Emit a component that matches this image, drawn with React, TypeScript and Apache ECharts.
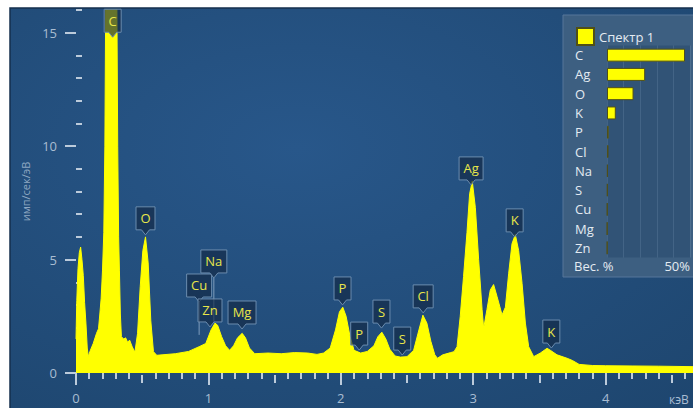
import React, { useEffect, useRef } from 'react';
import * as echarts from 'echarts';

// ---- spectrum (keV, counts/s/eV) ----
const energy = [
  0.0, 0.006, 0.015, 0.025, 0.035, 0.045, 0.055, 0.065, 0.075, 0.085, 0.093, 0.105, 0.13, 0.155, 0.17, 0.18, 0.19, 0.2,
  0.21, 0.218, 0.225, 0.25, 0.275, 0.3, 0.308, 0.315, 0.322, 0.328, 0.335, 0.343, 0.36, 0.375, 0.39, 0.405, 0.425, 0.445,
  0.465, 0.485, 0.505, 0.525, 0.545, 0.565, 0.585, 0.61, 0.65, 0.75, 0.85, 0.93, 0.98, 1.02, 1.05, 1.07, 1.1, 1.13, 1.16,
  1.19, 1.22, 1.255, 1.28, 1.31, 1.35, 1.45, 1.55, 1.65, 1.75, 1.82, 1.87, 1.92, 1.96, 1.99, 2.015, 2.04, 2.07, 2.1, 2.15,
  2.2, 2.25, 2.28, 2.31, 2.34, 2.37, 2.41, 2.45, 2.5, 2.55, 2.59, 2.62, 2.65, 2.68, 2.71, 2.73, 2.77, 2.83, 2.855, 2.878,
  2.902, 2.927, 2.953, 2.973, 2.993, 3.016, 3.041, 3.067, 3.079, 3.104, 3.129, 3.154, 3.18, 3.218, 3.243, 3.268, 3.293,
  3.318, 3.343, 3.369, 3.394, 3.419, 3.457, 3.507, 3.558, 3.583, 3.633, 3.709, 3.75, 3.8, 3.9, 4.0, 4.2, 4.4, 4.66,
];
const counts = [
  1.5, 3.2, 4.6, 5.3, 5.55, 5.0, 4.3, 3.1, 2.2, 1.1, 0.72, 0.95, 1.3, 1.75, 1.95, 2.6, 3.3, 4.5,
  6.2, 10, 17, 30, 38, 26, 17, 10, 6.0, 4.5, 2.6, 1.6, 1.5, 1.55, 1.35, 1.45, 1.15, 0.92,
  1.75, 3.8, 5.4, 6.0, 4.85, 2.3, 0.94, 0.78, 0.8, 0.85, 0.95, 1.16, 1.3, 1.9, 2.2, 2.1, 1.6, 1.2, 1.0,
  1.2, 1.55, 1.75, 1.55, 1.1, 0.85, 0.88, 0.85, 0.9, 0.88, 0.82, 0.88, 1.1, 1.9, 2.7, 2.9, 2.5, 1.6, 1.0, 0.88,
  0.95, 1.2, 1.6, 1.8, 1.5, 1.05, 0.75, 0.7, 0.72, 1.0, 1.9, 2.55, 2.2, 1.4, 0.8, 0.65, 0.8, 0.9, 0.94, 1.16,
  2.5, 4.25, 6.2, 7.9, 8.45, 7.3, 5.0, 2.8, 1.97, 2.8, 3.66, 3.9, 3.37, 2.56, 2.9, 4.4, 5.7,
  6.1, 5.4, 3.95, 2.2, 1.16, 0.72, 0.88, 1.09, 1.0, 0.8, 0.65, 0.55, 0.38, 0.33, 0.32, 0.31, 0.3, 0.28,
];

// ---- element markers ----
const labelNames = ['C', 'O', 'Cu', 'Na', 'Zn', 'Mg', 'P', 'P', 'S', 'S', 'Cl', 'Ag', 'K', 'K'];
const labelEnergies = [0.277, 0.525, 0.93, 1.041, 1.012, 1.254, 2.013, 2.139, 2.307, 2.464, 2.622, 2.984, 3.313, 3.59];
const labelTips = [14.8, 6.09, 3.13, 4.19, 2.03, 1.94, 3.0, 1.01, 1.98, 0.79, 2.65, 8.29, 6.0, 1.1];
const labelTargets = [14.8, 6.09, 1.68, 2.2, 2.03, 1.94, 3.0, 1.01, 1.98, 0.79, 2.65, 8.29, 6.0, 1.1];

// ---- inset: weight % ----
const barElements = ['C', 'Ag', 'O', 'K', 'P', 'Cl', 'Na', 'S', 'Cu', 'Mg', 'Zn'];
const barWeights = [47, 23, 16, 5.3, 1.0, 0.9, 0.5, 0.4, 0.3, 0.2, 0.2];

// ---- ticks ----
const yMajorTicks = [0, 5, 10, 15];
const yMinorTicks = [1, 2, 3, 4, 6, 7, 8, 9, 11, 12, 13, 14, 16];
const xMajorTicks = [0, 1, 2, 3, 4];
const xMidTicks = [0.5, 1.5, 2.5, 3.5, 4.5];
const weightLabelTicks = [50];

const FONT = '"Open Sans", "Noto Sans", sans-serif';

function measure(text: string, font: string): number {
  const c = document.createElement('canvas').getContext('2d');
  if (!c) return text.length * 8;
  c.font = font;
  return c.measureText(text).width;
}

export default function App() {
  const ref = useRef<HTMLDivElement>(null);
  useEffect(() => {
    if (!ref.current) return;
    const chart = echarts.init(ref.current, null, { renderer: 'svg' });

    const xMinorTicks: number[] = [];
    for (let i = 1; i < 47; i++) if (i % 5 !== 0) xMinorTicks.push(i / 10);

    const spectrum = energy.map((e, i) => [e, counts[i]]);
    const markers = labelEnergies.map((e, i) => [e, labelTips[i], labelTargets[i]]);
    const labelFont = `13px ${FONT}`;

    const tickColor = '#bccbdb';
    const labelColor = '#a9bdd2';

    const option: any = {
      animation: false,
      backgroundColor: '#ffffff',
      graphic: [
        {
          type: 'rect',
          z: -10,
          silent: true,
          shape: { x: 10, y: 8, width: 684, height: 401 },
          style: {
            fill: new echarts.graphic.RadialGradient(0.42, 0.35, 0.85, [
              { offset: 0, color: '#28578a' },
              { offset: 1, color: '#1e466f' },
            ]),
            stroke: '#142f4e',
            lineWidth: 1.5,
          },
        },
        {
          type: 'rect',
          z: -9,
          silent: true,
          shape: { x: 563, y: 15, width: 131, height: 262 },
          style: { fill: '#3d5f81', stroke: '#56779a', lineWidth: 1 },
        },
        {
          type: 'text',
          z: 5,
          silent: true,
          style: { text: 'Вес. %', x: 574, y: 266, fill: '#e4ebf2', font: `13px ${FONT}`, verticalAlign: 'middle', textVerticalAlign: 'middle' },
        },
        {
          type: 'text',
          z: 5,
          silent: true,
          style: { text: 'кэВ', x: 669, y: 399, fill: labelColor, font: `12px ${FONT}`, verticalAlign: 'middle', textVerticalAlign: 'middle' },
        },
      ],
      legend: {
        data: ['Спектр 1'],
        left: 571,
        top: 22,
        itemWidth: 17,
        itemHeight: 17,
        icon: 'rect',
        textStyle: { color: '#e4ebf2', fontSize: 13, fontFamily: FONT },
        selectedMode: false,
      },
      grid: [
        { left: 76, top: 10, right: 0, bottom: 35 },
        { left: 607, top: 45.5, width: 85, height: 212, show: true, backgroundColor: 'rgba(30,62,98,0.35)', borderWidth: 0 },
      ],
      xAxis: [
        {
          type: 'value', gridIndex: 0, min: 0, max: 4.66, position: 'bottom', offset: 2,
          axisLine: { show: false }, splitLine: { show: false },
          axisTick: { show: true, customValues: xMajorTicks, length: 12, lineStyle: { color: tickColor, width: 2 } },
          axisLabel: { customValues: xMajorTicks, margin: 16, color: labelColor, fontSize: 13, fontFamily: FONT },
        },
        {
          type: 'value', gridIndex: 0, min: 0, max: 4.66, position: 'bottom', offset: 2,
          axisLine: { show: false }, splitLine: { show: false },
          axisTick: { show: true, customValues: xMinorTicks, length: 6, lineStyle: { color: tickColor, width: 2 } },
          axisLabel: { show: false },
        },
        {
          type: 'value', gridIndex: 0, min: 0, max: 4.66, position: 'bottom', offset: 2,
          axisLine: { show: false }, splitLine: { show: false },
          axisTick: { show: true, customValues: xMidTicks, length: 8, lineStyle: { color: tickColor, width: 2 } },
          axisLabel: { show: false },
        },
        {
          type: 'value', gridIndex: 1, min: 0, max: 50, interval: 10,
          axisLine: { show: false }, axisTick: { show: false },
          splitLine: { show: true, lineStyle: { color: 'rgba(160,190,220,0.16)', width: 1 } },
          axisLabel: {
            customValues: weightLabelTicks, formatter: '{value}%', align: 'right', margin: 2,
            color: '#e4ebf2', fontSize: 13, fontFamily: FONT,
          },
        },
      ],
      yAxis: [
        {
          type: 'value', gridIndex: 0, min: 0, max: 16, offset: 3,
          axisLine: { show: false }, splitLine: { show: false },
          axisTick: { show: true, customValues: yMajorTicks, length: 11, lineStyle: { color: tickColor, width: 2 } },
          axisLabel: { customValues: yMajorTicks, margin: 16, color: labelColor, fontSize: 13, fontFamily: FONT },
          name: 'имп/сек/эВ', nameLocation: 'middle', nameGap: 42, nameRotate: 90,
          nameTextStyle: { color: '#8ea7c2', fontSize: 11, fontFamily: FONT },
        },
        {
          type: 'value', gridIndex: 0, min: 0, max: 16, offset: 3,
          axisLine: { show: false }, splitLine: { show: false },
          axisTick: { show: true, customValues: yMinorTicks, length: 6, lineStyle: { color: tickColor, width: 2 } },
          axisLabel: { show: false },
        },
        {
          type: 'category', gridIndex: 1, data: barElements, inverse: true,
          axisLine: { show: false }, axisTick: { show: false },
          axisLabel: { align: 'left', margin: 32, color: '#e4ebf2', fontSize: 13, fontFamily: FONT },
        },
      ],
      series: [
        {
          type: 'line',
          name: 'spectrum',
          xAxisIndex: 0,
          yAxisIndex: 0,
          data: spectrum,
          showSymbol: false,
          symbol: 'none',
          clip: true,
          lineStyle: { color: '#ffff00', width: 1 },
          areaStyle: { color: '#ffff00', opacity: 1 },
          z: 2,
        },
        {
          type: 'custom',
          name: 'markers',
          xAxisIndex: 0,
          yAxisIndex: 0,
          data: markers,
          clip: false,
          z: 5,
          renderItem: (params: any, api: any) => {
            const i = params.dataIndex;
            const name = labelNames[i];
            const tip = api.coord([api.value(0), api.value(1)]);
            const target = api.coord([api.value(0), api.value(2)]);
            const w = Math.max(17, Math.round(measure(name, labelFont) + 9));
            const h = 23, ph = 5, pw = 4;
            const cx = tip[0];
            const by = tip[1] - ph;
            const ty = by - h;
            const l = cx - w / 2;
            const r = cx + w / 2;
            const children: any[] = [];
            if (target[1] - tip[1] > 1) {
              children.push({
                type: 'line',
                shape: { x1: cx, y1: tip[1], x2: target[0], y2: target[1] },
                style: { stroke: '#7f9dbd', lineWidth: 1 },
              });
            }
            children.push({
              type: 'polygon',
              shape: { points: [[l, ty], [r, ty], [r, by], [cx + pw, by], [cx, tip[1]], [cx - pw, by], [l, by]] },
              style: { fill: 'rgba(18,40,68,0.65)', stroke: '#6b8cae', lineWidth: 1 },
            });
            children.push({
              type: 'text',
              style: {
                text: name, x: cx, y: ty + h / 2,
                align: 'center', verticalAlign: 'middle',
                textAlign: 'center', textVerticalAlign: 'middle',
                fill: '#e8e64a', font: labelFont,
              },
            });
            return { type: 'group', children };
          },
        },
        {
          type: 'bar',
          name: 'Спектр 1',
          xAxisIndex: 3,
          yAxisIndex: 2,
          data: barWeights,
          barWidth: 13,
          itemStyle: { color: '#ffff00', borderColor: '#4f4f18', borderWidth: 1 },
          z: 3,
        },
      ],
    };

    chart.setOption(option);
    return () => chart.dispose();
  }, []);

  return (
    <div
      ref={ref}
      style={{ position: 'absolute', left: 0, top: 0, width: 693, height: 408 }}
    />
  );
}
